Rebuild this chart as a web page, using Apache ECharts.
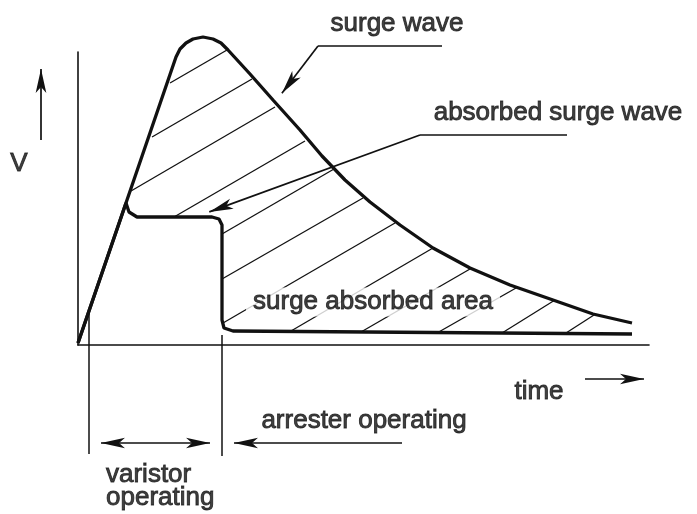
<!DOCTYPE html>
<html>
<head>
<meta charset="utf-8">
<script src="https://cdn.jsdelivr.net/npm/echarts@6/dist/echarts.min.js"></script>
<style>
html, body { margin: 0; padding: 0; background: #fff; }
#main { width: 697px; height: 514px; }
</style>
</head>
<body>
<div id="main"></div>
<script>
// 浪涌波形 (t, v)
var surgeWave = [
  [0, 2], [49, 145], [98, 288], [102, 296], [108, 302], [115, 306], [125, 308],
  [135, 306], [143, 302], [150, 295], [172, 271], [195, 245], [222, 215],
  [244, 189], [267, 165], [292, 143], [322, 120], [355, 97], [392, 77],
  [432, 60], [475, 45], [515, 31], [554, 22]
];

// 被吸收后的波形
var absorbedWave = [
  [0, 2], [48, 142], [51, 133], [59, 128], [134, 128], [141, 126], [144, 120],
  [144, 25], [146, 17], [155, 14], [554, 11]
];

// 斜线阴影 (起点, 终点)
var hatchLines = [
  [[92, 262], [149, 295]],
  [[74, 208], [174, 266]],
  [[53, 154], [197, 238]],
  [[96, 128], [227, 204]],
  [[144, 111], [256, 176]],
  [[144, 66], [285, 147]],
  [[145, 22], [317, 122]],
  [[213, 14], [355, 97]],
  [[283, 13], [392, 76]],
  [[359, 12], [438, 57]],
  [[424, 12], [477, 45]],
  [[488, 12], [516, 30]]
];

// 引线和尺寸线 (无箭头)
var plainLines = [
  [[240, 299], [364, 299]],
  [[342, 210], [489, 210]],
  [[11, 36], [11, -109]],
  [[144, 10], [144, -111]]
];

// 带箭头的线 (终点为箭头)
var arrowLines = [
  [[240, 299], [203.9, 251.8]],
  [[342, 210], [131.3, 133.1]],
  [[-37, 205], [-37, 276]],
  [[507, -34], [566, -34]],
  [[72, -98], [23, -98]],
  [[72, -98], [132, -98]],
  [[324, -98], [156, -98]]
];

// 文字标注
var labelNames = ['surge wave', 'absorbed surge wave', 'surge absorbed area', 'time', 'arrester operating', 'varistor\noperating', 'V'];
var labelPos = [[319, 321], [480, 232], [295, 43], [461, -47], [286, -76], [28, -141], [-59, 181]];
var labelAlign = ['center', 'center', 'center', 'center', 'center', 'left', 'center'];

var ink = '#111';
var font = '"Liberation Sans", Arial, Helvetica, sans-serif';

var myChart = echarts.init(document.getElementById('main'));

function toLines(list) {
  return list.map(function (seg) { return { coords: seg }; });
}

var labelData = labelNames.map(function (name, i) {
  var item = {
    name: name,
    value: labelPos[i],
    label: { align: labelAlign[i] }
  };
  if (name === 'surge absorbed area') {
    item.label.backgroundColor = '#fff';
    item.label.padding = [3, 7];
  }
  return item;
});

var option = {
  animation: false,
  backgroundColor: '#fff',
  grid: { left: 78, right: 48, top: 52, bottom: 169 },
  xAxis: {
    type: 'value', min: 0, max: 571,
    axisLine: { show: true, onZero: false, lineStyle: { color: ink, width: 1.6 } },
    axisTick: { show: false }, axisLabel: { show: false }, splitLine: { show: false }
  },
  yAxis: {
    type: 'value', min: 0, max: 293,
    axisLine: { show: true, onZero: false, lineStyle: { color: ink, width: 1.6 } },
    axisTick: { show: false }, axisLabel: { show: false }, splitLine: { show: false }
  },
  series: [
    {
      type: 'lines', coordinateSystem: 'cartesian2d', clip: false, z: 2,
      lineStyle: { color: ink, width: 1.3, opacity: 1 },
      data: toLines(hatchLines)
    },
    {
      type: 'lines', coordinateSystem: 'cartesian2d', clip: false, z: 3,
      lineStyle: { color: ink, width: 1.5, opacity: 1 },
      data: toLines(plainLines)
    },
    {
      type: 'lines', coordinateSystem: 'cartesian2d', clip: false, z: 3,
      symbol: ['none', 'arrow'], symbolSize: [0, [8, 24]],
      lineStyle: { color: ink, width: 1.7, opacity: 1 },
      itemStyle: { color: ink },
      data: toLines(arrowLines)
    },
    {
      type: 'line', clip: false, z: 4, showSymbol: false, smooth: false,
      lineStyle: { color: ink, width: 3.3 },
      data: surgeWave
    },
    {
      type: 'line', clip: false, z: 4, showSymbol: false, smooth: false,
      lineStyle: { color: ink, width: 3.3 },
      data: absorbedWave
    },
    {
      type: 'scatter', z: 6, symbolSize: 0, silent: true, clip: false,
      label: {
        show: true, position: 'inside', formatter: '{b}',
        color: ink, fontFamily: font, fontSize: 26, lineHeight: 23,
        textBorderColor: ink, textBorderWidth: 0.9
      },
      data: labelData
    }
  ]
};

myChart.setOption(option);
</script>
</body>
</html>
